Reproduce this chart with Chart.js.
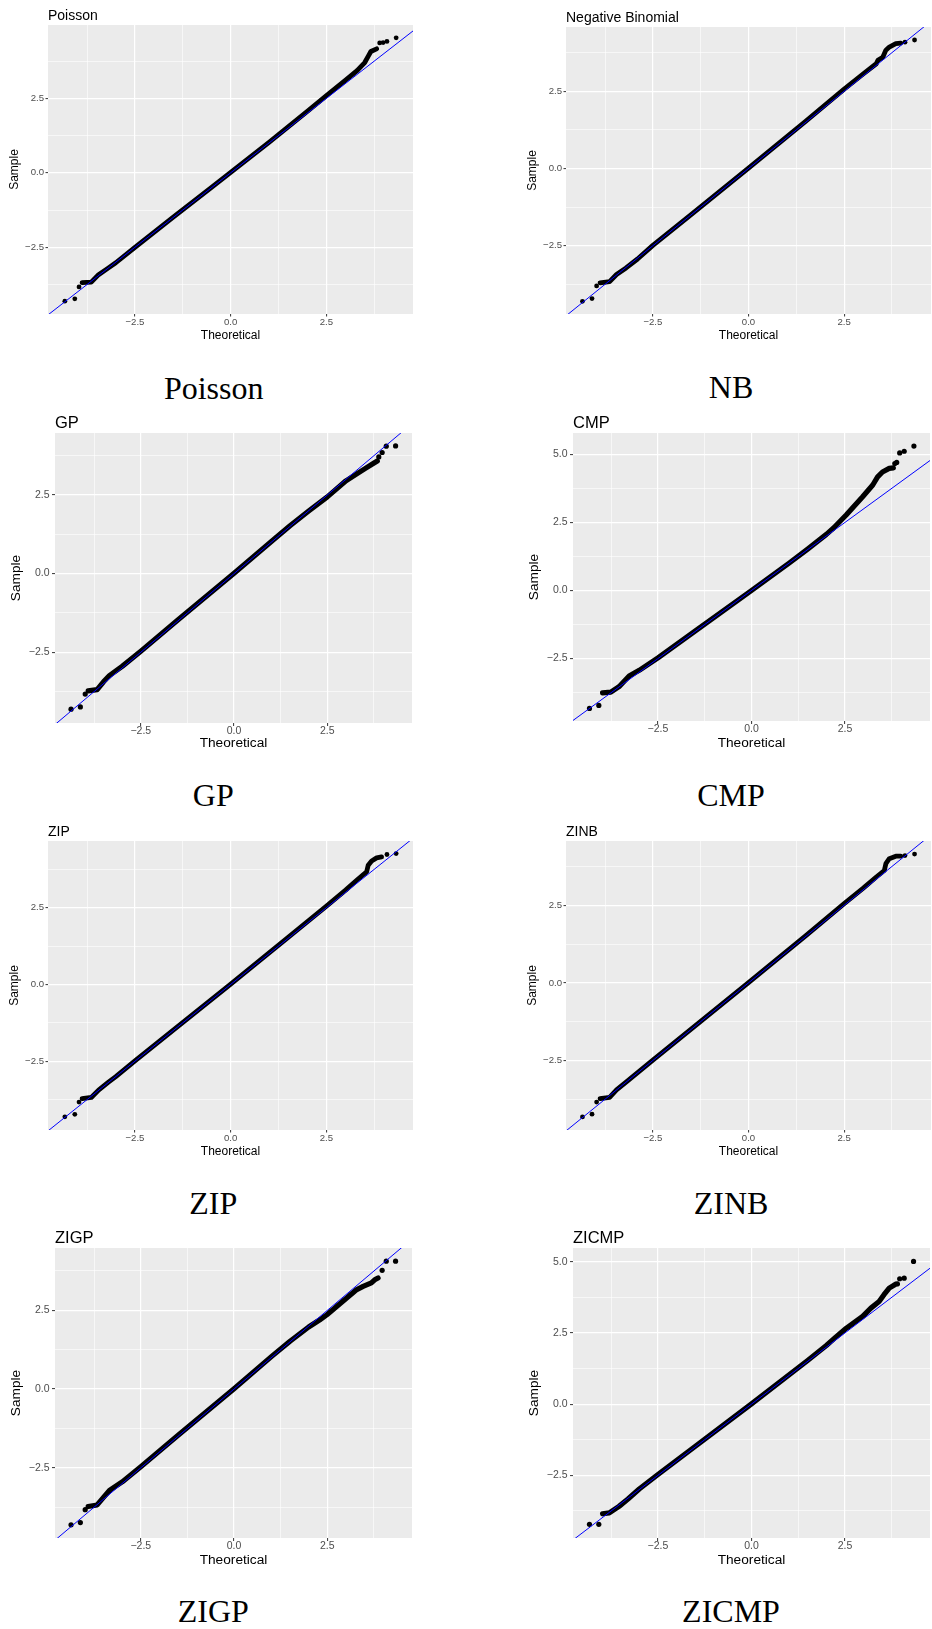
<!DOCTYPE html>
<html>
<head>
<meta charset="utf-8">
<script src="https://cdn.jsdelivr.net/npm/chart.js@4.4.1/dist/chart.umd.min.js"></script>
<style>
    html, body { margin: 0; padding: 0; background: #fff; overflow: hidden; }
    #page { position: relative; width: 932px; height: 1629px; overflow: hidden; }
    #page canvas { position: absolute; }
    .caption {
        position: absolute;
        transform: translate(-50%, -50%);
        font: 32px "Liberation Serif", "Times New Roman", serif;
        line-height: 1;
        color: #000;
        white-space: nowrap;
    }
</style>
</head>
<body>
<div id="page"></div>
<script>
// reference line y = x (qqline), clipped to each panel
const refLine = [[-6, -6], [6, 6]];

// grid / tick values
const minorTicks = [-3.75, -1.25, 1.25, 3.75];
const majorTicks = [-2.5, 0, 2.5];
const majorLabels = ["−2.5", "0.0", "2.5"];
const majorTicksTall = [-2.5, 0, 2.5, 5];
const majorLabelsTall = ["−2.5", "0.0", "2.5", "5.0"];

// [theoretical, sample]: dense band + isolated points
const poissonBand = [[-3.88, -3.69], [-3.64, -3.67], [-3.45, -3.42], [-3.2, -3.2], [-3.0, -3.02], [-2.5, -2.5], [-1.5, -1.49], [-0.5, -0.49], [0, 0.01], [1.0, 1.02], [1.5, 1.54], [2.0, 2.06], [2.5, 2.59], [3.0, 3.11], [3.3, 3.43], [3.5, 3.70], [3.6, 3.93], [3.66, 4.07], [3.81, 4.16]];
const poissonDots = [[-4.33, -4.31], [-4.07, -4.23], [-3.96, -3.83], [3.89, 4.36], [3.98, 4.37], [4.08, 4.41], [4.32, 4.53]];

const nbBand = [[-3.88, -3.70], [-3.63, -3.66], [-3.45, -3.43], [-3.2, -3.22], [-2.9, -2.93], [-2.5, -2.49], [-1.5, -1.49], [0, 0.01], [1.5, 1.53], [2.5, 2.57], [3.0, 3.06], [3.34, 3.39], [3.38, 3.50], [3.51, 3.60], [3.59, 3.83], [3.68, 3.93], [3.85, 4.04], [3.98, 4.06]];
const nbDots = [[-4.34, -4.30], [-4.09, -4.21], [-3.97, -3.80], [4.09, 4.09], [4.34, 4.16]];

const gpBand = [[-3.91, -3.73], [-3.67, -3.69], [-3.5, -3.44], [-3.34, -3.24], [-3.0, -2.95], [-2.5, -2.47], [-1.5, -1.47], [0, 0.01], [1.0, 1.02], [1.5, 1.52], [2.0, 1.99], [2.5, 2.44], [3.0, 2.95], [3.3, 3.18], [3.5, 3.33], [3.73, 3.50], [3.84, 3.58]];
const gpDots = [[-4.37, -4.31], [-4.12, -4.24], [-3.99, -3.83], [3.88, 3.71], [3.97, 3.85], [4.08, 4.05], [4.33, 4.06]];

const cmpBand = [[-3.98, -3.76], [-3.76, -3.73], [-3.54, -3.53], [-3.27, -3.14], [-3.0, -2.93], [-2.5, -2.47], [-1.5, -1.48], [0, 0], [1.0, 1.0], [1.5, 1.52], [2.0, 2.06], [2.2, 2.3], [2.53, 2.77], [2.97, 3.44], [3.24, 3.87], [3.37, 4.17], [3.5, 4.35], [3.68, 4.48], [3.79, 4.5]];
const cmpDots = [[-4.33, -4.33], [-4.08, -4.22], [3.83, 4.66], [3.88, 4.70], [3.96, 5.05], [4.08, 5.11], [4.34, 5.30]];

const zipBand = [[-3.88, -3.72], [-3.64, -3.68], [-3.45, -3.44], [-3.2, -3.19], [-3.0, -3.0], [-2.5, -2.49], [-1.5, -1.49], [0, 0.01], [1.5, 1.53], [2.5, 2.55], [3.0, 3.07], [3.29, 3.39], [3.55, 3.67], [3.59, 3.88], [3.68, 4.02], [3.81, 4.12], [3.94, 4.15]];
const zipDots = [[-4.33, -4.31], [-4.07, -4.23], [-3.96, -3.83], [4.08, 4.23], [4.32, 4.26]];

const zinbBand = [[-3.88, -3.73], [-3.63, -3.69], [-3.45, -3.45], [-3.2, -3.2], [-2.5, -2.49], [-1.5, -1.49], [0, 0.01], [1.5, 1.52], [2.5, 2.55], [3.0, 3.05], [3.34, 3.41], [3.55, 3.62], [3.59, 3.84], [3.68, 4.0], [3.85, 4.08], [3.98, 4.08]];
const zinbDots = [[-4.34, -4.32], [-4.09, -4.23], [-3.97, -3.84], [4.09, 4.10], [4.34, 4.15]];

const zigpBand = [[-3.91, -3.73], [-3.67, -3.68], [-3.5, -3.44], [-3.34, -3.22], [-3.0, -2.95], [-2.5, -2.47], [-1.5, -1.47], [0, 0.01], [1.0, 1.03], [1.5, 1.52], [2.0, 1.97], [2.3, 2.2], [2.49, 2.36], [3.02, 2.89], [3.29, 3.16], [3.46, 3.26], [3.68, 3.37], [3.77, 3.47], [3.86, 3.53]];
const zigpDots = [[-4.37, -4.31], [-4.12, -4.24], [-3.99, -3.83], [3.97, 3.77], [4.08, 4.06], [4.33, 4.06]];

const zicmpBand = [[-3.98, -3.85], [-3.8, -3.82], [-3.54, -3.59], [-3.3, -3.33], [-3.0, -2.98], [-2.5, -2.47], [-1.5, -1.48], [0, 0.01], [1.5, 1.53], [2.0, 2.06], [2.25, 2.35], [2.53, 2.66], [2.97, 3.08], [3.19, 3.37], [3.41, 3.6], [3.54, 3.84], [3.68, 4.07], [3.85, 4.21], [3.9, 4.22]];
const zicmpDots = [[-4.33, -4.22], [-4.08, -4.22], [3.96, 4.40], [4.08, 4.42], [4.33, 5.01]];

// two sizes of panel in the figure
const small = { tick: 9.6, axis: 12, title: 14, tickLen: 2.5, yPad: 1.5, xPad: 1, dot: 2.4, band: 4.8 };
const large = { tick: 10.5, axis: 13.7, title: 16.5, tickLen: 3, yPad: 2.5, xPad: 0, dot: 2.6, band: 5.2 };

// box = plot area [left, top, right, bottom] in page pixels
const panels = [
    { title: "Poisson", caption: "Poisson", band: poissonBand, dots: poissonDots, box: [48.3, 25, 416.7, 314], sampleX: 15, theoY: 335.7, cap: [213.7, 388], x: [-4.77, 4.76], y: [-4.74, 4.96], size: small, tall: false },
    { title: "Negative Binomial", caption: "NB", band: nbBand, dots: nbDots, box: [566, 26.7, 934.8, 314], sampleX: 532.7, theoY: 335.7, cap: [731, 386.7], x: [-4.77, 4.77], y: [-4.71, 4.58], size: small, tall: false },
    { title: "GP", caption: "GP", band: gpBand, dots: gpDots, box: [55, 432.7, 416, 722.7], sampleX: 16.7, theoY: 743.3, cap: [213.3, 795], x: [-4.80, 4.77], y: [-4.75, 4.47], size: large, tall: false },
    { title: "CMP", caption: "CMP", band: cmpBand, dots: cmpDots, box: [572.7, 432.7, 934, 720.7], sampleX: 534.3, theoY: 743.3, cap: [731, 795], x: [-4.77, 4.77], y: [-4.79, 5.78], size: large, tall: true },
    { title: "ZIP", caption: "ZIP", band: zipBand, dots: zipDots, box: [48.3, 840.7, 416.7, 1130], sampleX: 15, theoY: 1151.7, cap: [213.3, 1202.7], x: [-4.77, 4.76], y: [-4.74, 4.67], size: small, tall: false },
    { title: "ZINB", caption: "ZINB", band: zinbBand, dots: zinbDots, box: [566, 840.7, 934.8, 1130], sampleX: 532.7, theoY: 1151.7, cap: [731, 1202.7], x: [-4.77, 4.77], y: [-4.74, 4.57], size: small, tall: false },
    { title: "ZIGP", caption: "ZIGP", band: zigpBand, dots: zigpDots, box: [55, 1248.3, 416, 1538.3], sampleX: 16.7, theoY: 1560, cap: [213.3, 1610.7], x: [-4.80, 4.77], y: [-4.73, 4.48], size: large, tall: false },
    { title: "ZICMP", caption: "ZICMP", band: zicmpBand, dots: zicmpDots, box: [572.7, 1248.3, 934, 1538.3], sampleX: 534.3, theoY: 1560, cap: [731, 1610.7], x: [-4.77, 4.77], y: [-4.70, 5.48], size: large, tall: true },
];

Chart.defaults.font.family = '"Liberation Sans", Arial, sans-serif';

const panelDecor = {
    id: "panelDecor",
    beforeDraw(chart) {
        const { ctx, chartArea: a } = chart;
        ctx.save();
        ctx.fillStyle = "#ebebeb";
        ctx.fillRect(a.left, a.top, a.right - a.left, a.bottom - a.top);
        ctx.restore();
    },
    afterDraw(chart, args, opts) {
        const { ctx, chartArea: a } = chart;
        ctx.save();
        ctx.fillStyle = "#000";
        ctx.font = `${opts.size}px "Liberation Sans", Arial, sans-serif`;
        ctx.textAlign = "left";
        ctx.textBaseline = "alphabetic";
        ctx.fillText(opts.text, a.left, a.top - 5.5);
        ctx.restore();
    },
};

const pts = (list) => list.map(([x, y]) => ({ x, y }));

const page = document.getElementById("page");

panels.forEach((p) => {
    const s = p.size;
    const [L, T, R, B] = p.box.map(Math.round);
    const left = Math.round(p.sampleX - s.axis / 2 - 2);
    const top = T - 24;
    const width = R - left;
    const xAxisH = Math.round(p.theoY + s.axis / 2 + 2 - p.box[3]);
    const height = B + xAxisH - top;

    const canvas = document.createElement("canvas");
    canvas.width = width;
    canvas.height = height;
    canvas.style.left = `${left}px`;
    canvas.style.top = `${top}px`;
    canvas.style.width = `${width}px`;
    canvas.style.height = `${height}px`;
    page.appendChild(canvas);

    const cap = document.createElement("div");
    cap.className = "caption";
    cap.textContent = p.caption;
    cap.style.left = `${p.cap[0]}px`;
    cap.style.top = `${p.cap[1]}px`;
    page.appendChild(cap);

    const axis = (range, majors, labels, titleText, titlePad, tickPad, fit) => ({
        type: "linear",
        min: range[0],
        max: range[1],
        afterBuildTicks: (scale) => {
            scale.ticks = [...minorTicks, ...majors].sort((a, b) => a - b).map((v) => ({ value: v }));
        },
        afterFit: fit,
        border: { display: false },
        grid: {
            color: "#ffffff",
            lineWidth: (ctx) => (majors.includes(ctx.tick && ctx.tick.value) ? 1.2 : 0.6),
            tickColor: (ctx) => (majors.includes(ctx.tick && ctx.tick.value) ? "#333333" : "rgba(0,0,0,0)"),
            tickLength: s.tickLen,
            tickWidth: 1,
        },
        ticks: {
            autoSkip: false,
            maxRotation: 0,
            minRotation: 0,
            padding: tickPad,
            color: "#4d4d4d",
            font: { size: s.tick, lineHeight: 1 },
            callback: (v) => {
                const i = majors.indexOf(v);
                return i < 0 ? "" : labels[i];
            },
        },
        title: {
            display: true,
            text: titleText,
            color: "#000",
            font: { size: s.axis, lineHeight: 1 },
            padding: titlePad,
        },
    });

    new Chart(canvas, {
        type: "scatter",
        data: {
            datasets: [
                { data: pts(refLine), showLine: true, borderColor: "#0000ff", borderWidth: 1, pointRadius: 0, clip: 0, order: 0 },
                { data: pts(p.band), showLine: true, borderColor: "#000", borderWidth: s.band, borderCapStyle: "round", borderJoinStyle: "round", pointRadius: 0, order: 1 },
                { data: pts(p.dots), showLine: false, pointRadius: s.dot, pointBackgroundColor: "#000", pointBorderWidth: 0, order: 2 },
            ],
        },
        options: {
            responsive: false,
            animation: false,
            devicePixelRatio: 1,
            layout: { padding: { top: 24, left: 0, right: 0, bottom: 0 } },
            plugins: {
                legend: { display: false },
                tooltip: { enabled: false },
                panelDecor: { text: p.title, size: s.title },
            },
            scales: {
                x: axis(p.x, majorTicks, majorLabels, "Theoretical", { top: 0, bottom: 2 }, s.xPad, (scale) => { scale.height = xAxisH; }),
                y: axis(p.y, p.tall ? majorTicksTall : majorTicks, p.tall ? majorLabelsTall : majorLabels, "Sample",
                    { top: p.sampleX - left - s.axis / 2, bottom: 0 }, s.yPad, (scale) => { scale.width = L - left; }),
            },
        },
        plugins: [panelDecor],
    });
});
</script>
</body>
</html>
